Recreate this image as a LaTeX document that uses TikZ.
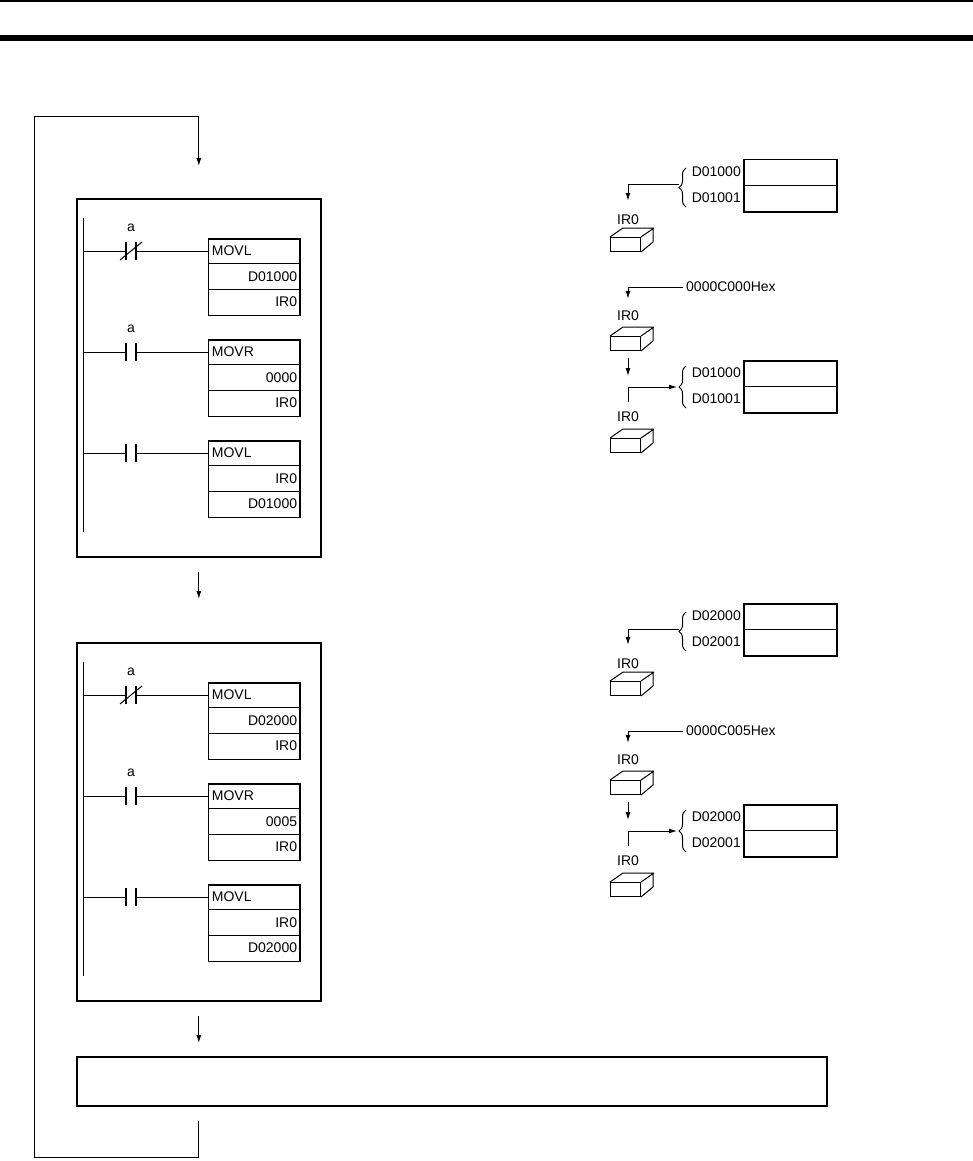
\documentclass[tikz,border=0pt]{standalone}
\usepackage{fontspec}
\setmainfont{Liberation Sans}
\usetikzlibrary{arrows.meta,calc,decorations.pathreplacing}

\begin{document}
\begin{tikzpicture}[x=1pt,y=-1pt,
  every node/.style={inner sep=0pt,font=\fontsize{14}{16}\selectfont},
  panel/.style={draw,line width=1.6pt,anchor=north west},
  ibox/.style={draw,line width=1.5pt,anchor=north west,minimum width=91.6pt,minimum height=76.5pt},
  mem/.style={draw,line width=1.5pt,anchor=north west,minimum width=93pt,minimum height=52pt},
  cube/.style={draw,line width=1pt,anchor=north west,minimum width=30pt,minimum height=14pt},
  contact/.style={minimum width=10pt,minimum height=18pt},
  wire/.style={line width=1pt},
  plate/.style={line width=1.5pt},
  flow/.style={line width=1pt,-{Latex[length=8pt,width=5pt]}},
  brc/.style={line width=1pt,decorate,decoration={brace,amplitude=7pt}}]
\useasboundingbox (0,0) rectangle (973,1161);
% header rules
\fill (0,0) rectangle (973,1.7);
\fill (0,35) rectangle (973,41);

\foreach \pn/\ofs/\adr/\adrb/\kval/\hexv in {1/0/D01000/D01001/0000/0000C000Hex, 2/444/D02000/D02001/0005/0000C005Hex}{
\begin{scope}[shift={(0,\ofs)}]
% ladder program
\node[panel,minimum width=244pt,minimum height=358pt] (p\pn) at (76,198) {};
\coordinate (rl\pn) at (83.5,218);
\draw[plate] (rl\pn) -- (83.5,532);
\foreach \rw/\op/\va/\vb in {0/MOVL/\adr/IR0, 1/MOVR/\kval/IR0, 2/MOVL/IR0/\adr}{
  \node[ibox] (ib\pn\rw) at (207.7,238+101*\rw) {};
  \draw[wire] ($(ib\pn\rw.north west)+(0,25.5)$) -- ($(ib\pn\rw.north east)+(0,25.5)$)
    ($(ib\pn\rw.north west)+(0,51)$) -- ($(ib\pn\rw.north east)+(0,51)$);
  \node[anchor=west] (op\pn\rw) at ($(ib\pn\rw.north west)+(4,12.75)$) {\op};
  \node[anchor=east] (va\pn\rw) at ($(ib\pn\rw.north east)+(-3.5,38.25)$) {\va};
  \node[anchor=east] (vb\pn\rw) at ($(ib\pn\rw.north east)+(-3.5,63.75)$) {\vb};
  \node[contact] (k\pn\rw) at (131,251+101*\rw) {};
  \draw[plate] (k\pn\rw.north west) -- (k\pn\rw.south west)
    (k\pn\rw.north east) -- (k\pn\rw.south east);
  \draw[wire] (k\pn\rw.west -| rl\pn) -- (k\pn\rw.west)
    (k\pn\rw.east) -- (k\pn\rw.east -| ib\pn\rw.west);
  \ifnum\rw=0 \draw[wire] ($(k\pn\rw)+(-11,9)$) -- ($(k\pn\rw)+(11,-9)$); \fi
  \ifnum\rw<2 \node (a\pn\rw) at ($(k\pn\rw)+(0,-23)$) {a}; \fi
}
% data moves
\node[mem] (ma\pn) at (743,159) {};
\draw[wire] (ma\pn.west) -- (ma\pn.east);
\node[anchor=east] (da\pn) at (741,172) {\adr};
\node[anchor=east] (db\pn) at (741,198) {\adrb};
\draw[brc] (686,207) -- (686,168);
\coordinate (ba\pn) at (679,185);
\node (ra\pn) at (628,220) {IR0};
\draw[flow] (ba\pn) -| ($(ra\pn.north)+(0,-14)$);
\node[cube] (ca\pn) at (610,237) {};
\node[anchor=west] (hx\pn) at (686,287) {\hexv};
\node (rb\pn) at (628,316) {IR0};
\draw[flow] ($(hx\pn.west)+(-3,0)$) -| ($(rb\pn.north)+(0,-12)$);
\node[cube] (cb\pn) at (610,336) {};
\draw[flow] ($(cb\pn.south -| rb\pn)+(0,7)$) -- ++(0,18);
\node[mem] (mb\pn) at (743,360) {};
\draw[wire] (mb\pn.west) -- (mb\pn.east);
\node[anchor=east] (dc\pn) at (741,373) {\adr};
\node[anchor=east] (dd\pn) at (741,399) {\adrb};
\draw[brc] (686,408) -- (686,366);
\coordinate (bb\pn) at (679,387);
\node (rc\pn) at (628,417) {IR0};
\draw[flow] ($(rc\pn.north)+(0,-10)$) |- ($(bb\pn)+(-2,0)$);
\node[cube] (cc\pn) at (610,438) {};
\foreach \cb in {ca,cb,cc}
  \draw[wire] (\cb\pn.north west) -- ++(13,-9) -- ++(30,0) -- ++(0,14) -- (\cb\pn.south east)
    (\cb\pn.north east) -- ++(13,-9);
\end{scope}
}

\node[panel,minimum width=750pt,minimum height=49pt] (cyc) at (76,1056) {};
\draw[flow,shorten <=14pt,shorten >=43pt] (p1.south) -- (p2.north);
\draw[flow,shorten <=14pt,shorten >=13pt] (p2.south) -- (p2.south |- cyc.north);
\draw[flow] ($(cyc.south -| p1.south)+(0,14)$) -- ++(0,37) -| (34,117) -| ($(p1.north)+(0,-32)$);
\end{tikzpicture}
\end{document}
